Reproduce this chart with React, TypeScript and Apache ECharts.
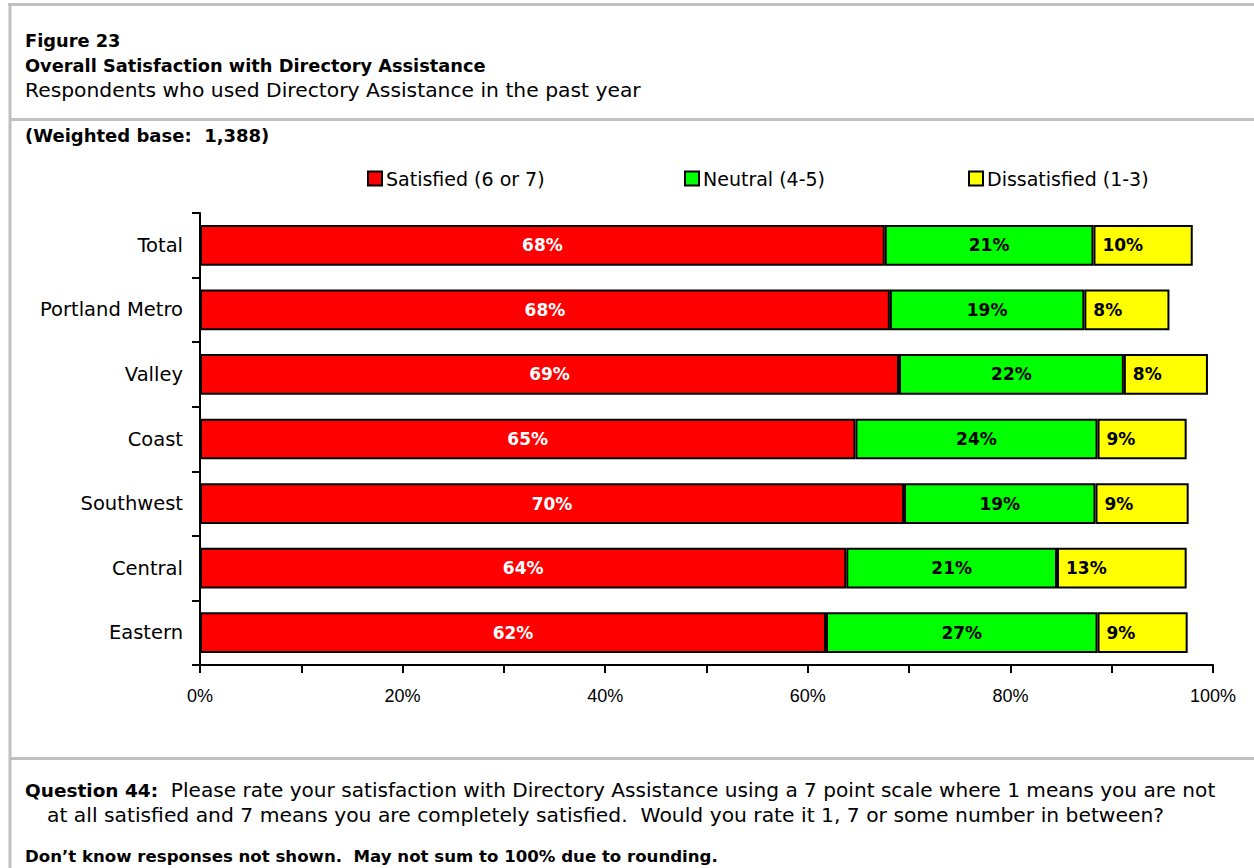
import React, { useEffect, useRef } from "react";
import * as echarts from "echarts";

const categories = ["Total", "Portland Metro", "Valley", "Coast", "Southwest", "Central", "Eastern"];
const satisfied = [67.6, 68.1, 69.0, 64.7, 69.5, 63.8, 61.8];
const neutral = [20.6, 19.2, 22.2, 23.9, 18.9, 20.8, 26.8];
const dissatisfied = [9.8, 8.4, 8.3, 8.8, 9.2, 12.8, 8.9];
const seriesNames = ["Satisfied (6 or 7)", "Neutral (4-5)", "Dissatisfied (1-3)"];
const seriesColors = ["#ff0000", "#00ff00", "#ffff00"];

const TITLE_FONT = "'DejaVu Sans', sans-serif";
const CHART_FONT = "'DejaVu Sans', sans-serif";

export default function App() {
  const ref = useRef<HTMLDivElement>(null);
  useEffect(() => {
    if (!ref.current) return;
    const chart = echarts.init(ref.current, null, { renderer: "svg" });
    const fmt = (p: any) => Math.round(p.value) + "%";
    const barBase = {
      type: "bar",
      stack: "total",
      barWidth: "63%",
    };
    const txt = (x: number, y: number, text: string, size: number, bold: boolean, extra: any = {}) => ({
      type: "text",
      x,
      y,
      style: {
        text,
        fontFamily: TITLE_FONT,
        fontSize: size,
        fontWeight: bold ? "bold" : "normal",
        lineHeight: 20,
        fill: "#000",
        verticalAlign: "middle",
        ...extra,
      },
    });
    const option: any = {
      animation: false,
      backgroundColor: "#ffffff",
      textStyle: { fontFamily: CHART_FONT },
      grid: { left: 200, right: 41, top: 213, bottom: 203, containLabel: false },
      legend: [0, 1, 2].map((i) => ({
        data: [seriesNames[i]],
        left: [362, 679, 963][i],
        top: 164,
        icon: "rect",
        itemWidth: 14,
        itemHeight: 14,
        itemGap: 0,
        textStyle: { fontFamily: CHART_FONT, fontSize: 19, color: "#000", padding: [0, 0, 0, -1] },
        selectedMode: false,
      })),
      xAxis: {
        type: "value",
        min: 0,
        max: 100,
        interval: 10,
        splitLine: { show: false },
        axisLine: { show: true, lineStyle: { color: "#000", width: 2 } },
        axisTick: { show: true, length: 8, lineStyle: { color: "#000", width: 2 } },
        axisLabel: {
          margin: 22,
          fontFamily: "'Liberation Sans', sans-serif",
          fontSize: 18,
          color: "#000",
          formatter: (v: number) => (v % 20 === 0 ? v + "%" : ""),
        },
      },
      yAxis: {
        type: "category",
        data: categories,
        inverse: true,
        axisLine: { show: true, lineStyle: { color: "#000", width: 2 } },
        axisTick: { show: true, length: 8, lineStyle: { color: "#000", width: 2 } },
        axisLabel: { margin: 17, fontFamily: CHART_FONT, fontSize: 19.5, color: "#000" },
      },
      series: [
        {
          ...barBase,
          name: seriesNames[0],
          data: satisfied,
          itemStyle: { color: seriesColors[0], borderColor: "#000", borderWidth: 2 },
          label: {
            show: true,
            position: "inside",
            formatter: fmt,
            color: "#fff",
            fontWeight: "bold",
            fontSize: 17,
            fontFamily: CHART_FONT,
          },
        },
        {
          ...barBase,
          name: seriesNames[1],
          data: neutral,
          itemStyle: { color: seriesColors[1], borderColor: "#000", borderWidth: 2 },
          label: {
            show: true,
            position: "inside",
            formatter: fmt,
            color: "#000",
            fontWeight: "bold",
            fontSize: 17,
            fontFamily: CHART_FONT,
          },
        },
        {
          ...barBase,
          name: seriesNames[2],
          data: dissatisfied,
          itemStyle: { color: seriesColors[2], borderColor: "#000", borderWidth: 2 },
          label: {
            show: true,
            position: "insideLeft",
            distance: 9,
            formatter: fmt,
            color: "#000",
            fontWeight: "bold",
            fontSize: 17,
            fontFamily: CHART_FONT,
          },
        },
      ],
      graphic: [
        { type: "line", shape: { x1: 8, y1: 4.5, x2: 1254, y2: 4.5 }, style: { stroke: "#c0c0c0", lineWidth: 3 } },
        { type: "line", shape: { x1: 10, y1: 3, x2: 10, y2: 868 }, style: { stroke: "#c0c0c0", lineWidth: 3 } },
        { type: "line", shape: { x1: 10, y1: 119.5, x2: 1254, y2: 119.5 }, style: { stroke: "#c0c0c0", lineWidth: 3 } },
        { type: "line", shape: { x1: 10, y1: 758.5, x2: 1254, y2: 758.5 }, style: { stroke: "#c0c0c0", lineWidth: 3 } },
        txt(25, 40, "Figure 23", 17.8, true),
        txt(25, 65, "Overall Satisfaction with Directory Assistance", 17.8, true),
        txt(25, 90, "Respondents who used Directory Assistance in the past year", 20.3, false),
        txt(25, 135, "(Weighted base:  1,388)", 18, true),
        txt(
          25,
          790,
          "{b|Question 44:}  Please rate your satisfaction with Directory Assistance using a 7 point scale where 1 means you are not",
          20.1,
          false,
          { rich: { b: { fontWeight: "bold", fontFamily: TITLE_FONT, fontSize: 18.5, lineHeight: 20, fill: "#000" } } }
        ),
        txt(
          47,
          815,
          "at all satisfied and 7 means you are completely satisfied.  Would you rate it 1, 7 or some number in between?",
          20.3,
          false
        ),
        txt(25, 856, "Don\u2019t know responses not shown.  May not sum to 100% due to rounding.", 16.6, true),
      ],
    };
    chart.setOption(option);
    return () => chart.dispose();
  }, []);
  return (
    <div
      ref={ref}
      style={{ position: "fixed", left: 0, top: 0, width: 1254, height: 868, background: "#fff" }}
    />
  );
}
